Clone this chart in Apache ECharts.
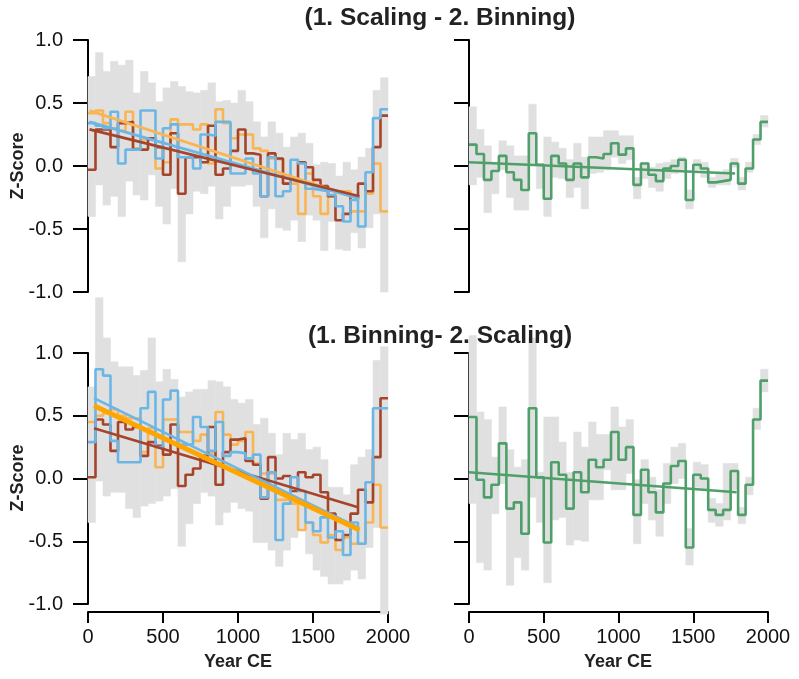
<!DOCTYPE html>
<html>
<head>
<meta charset="utf-8">
<script src="https://cdn.jsdelivr.net/npm/echarts@6/dist/echarts.min.js"></script>
<style>
html,body{margin:0;padding:0;background:#fff;}
#chart{width:799px;height:679px;}
</style>
</head>
<body>
<div id="chart"></div>
<script>
// ---- data ----
const binEdges = [0,50,100,150,200,250,300,350,400,450,500,550,600,650,700,750,800,850,900,950,1000,1050,1100,1150,1200,1250,1300,1350,1400,1450,1500,1550,1600,1650,1700,1750,1800,1850,1900,1950,2000];
const yTicks = [-1.0,-0.5,0.0,0.5,1.0];
const xTicks = [0,500,1000,1500,2000];

// Top-left: (1. Scaling - 2. Binning)
const tlOrange = [0.42,0.44,0.34,0.30,0.28,0.43,0.14,0.21,0.21,-0.02,0.03,0.37,0.33,0.33,0.29,0.33,0.02,0.45,0.34,0.22,0.25,0.25,0.14,0.12,0.06,0.05,-0.14,-0.14,-0.38,-0.06,-0.24,-0.38,-0.24,-0.20,-0.20,-0.36,-0.36,-0.22,0.02,-0.36];
const tlBlue = [0.34,0.32,0.30,0.43,0.02,0.13,0.13,0.44,0.44,0.06,0.30,0.33,0.07,0.07,-0.02,0.25,0.24,0.35,0.35,-0.06,-0.06,0.06,-0.06,-0.24,0.07,-0.24,-0.20,0.05,0.02,-0.18,-0.19,-0.20,-0.23,-0.32,-0.44,-0.27,-0.48,-0.05,0.38,0.45];
const tlBrown = [-0.03,0.29,0.29,0.15,0.34,0.35,0.13,0.13,0.22,0.15,-0.07,0.26,-0.22,0.07,0.07,0.03,0.32,-0.07,-0.02,0.12,0.29,0.10,0.09,-0.24,0.10,0.06,-0.14,-0.10,0.03,-0.01,-0.11,-0.16,-0.24,-0.43,-0.38,-0.24,-0.14,-0.20,0.15,0.40];
const tlUpper = [0.71,0.90,0.75,0.83,0.80,0.84,0.58,0.75,0.66,0.51,0.62,0.67,0.63,0.59,0.58,0.60,0.66,0.51,0.52,0.50,0.60,0.51,0.35,0.23,0.35,0.26,0.15,0.23,0.26,0.18,0.01,0.03,0.02,-0.08,0.03,-0.03,0.07,0.14,0.60,0.70];
const tlLower = [-0.40,-0.15,-0.31,-0.24,-0.40,-0.12,-0.23,-0.27,-0.07,-0.32,-0.46,-0.18,-0.76,-0.38,-0.20,-0.22,-0.16,-0.42,-0.32,-0.16,-0.16,-0.15,-0.32,-0.57,-0.34,-0.49,-0.51,-0.43,-0.60,-0.39,-0.43,-0.67,-0.44,-0.66,-0.67,-0.53,-0.65,-0.49,-0.38,-1.0];
const tlTrendOrange = [[10,0.44],[1810,-0.26]];
const tlTrendBlue = [[10,0.35],[1810,-0.26]];
const tlTrendBrown = [[10,0.29],[1810,-0.24]];

// Top-right
const trGreen = [0.17,0.095,-0.11,-0.04,0.08,-0.05,-0.11,-0.19,0.26,0.01,-0.26,0.08,0.02,-0.11,0.02,-0.09,0.07,0.06,0.095,0.18,0.09,0.14,-0.15,0.02,-0.07,-0.12,-0.02,0.0,0.05,-0.27,0.01,-0.02,-0.13,-0.12,-0.11,0.02,-0.14,-0.02,0.21,0.35];
const trUpper = [0.47,0.29,0.16,0.03,0.20,0.16,0.08,0.08,0.49,0.02,0.23,0.19,0.14,0.05,0.18,0.07,0.23,0.23,0.28,0.28,0.24,0.24,-0.09,0.03,-0.01,0.02,0.03,0.05,0.07,-0.19,0.05,0.03,-0.09,-0.06,-0.03,0.06,-0.09,0.03,0.25,0.40];
const trLower = [-0.15,-0.09,-0.37,-0.22,-0.03,-0.25,-0.35,-0.35,0.02,-0.18,-0.40,-0.09,-0.10,-0.25,-0.17,-0.34,-0.06,-0.05,-0.03,0.07,0.02,0.05,-0.26,-0.10,-0.17,-0.20,-0.10,-0.06,-0.03,-0.34,-0.03,-0.09,-0.17,-0.15,-0.15,-0.01,-0.19,-0.05,0.17,0.31];
const trTrendGreen = [[0,0.03],[1780,-0.06]];

// Bottom-left: (1. Binning- 2. Scaling)
const blOrange = [0.45,0.50,0.52,0.55,0.50,0.48,0.48,0.21,0.40,0.09,0.47,0.47,0.37,0.37,0.30,0.35,0.20,0.53,0.35,0.27,0.30,0.37,0.12,0.04,0.04,-0.17,-0.17,-0.20,-0.41,-0.35,-0.45,-0.51,-0.45,-0.57,-0.47,-0.52,-0.52,-0.35,-0.05,-0.39];
const blBlue = [0.29,0.87,0.82,0.30,0.13,0.13,0.13,0.56,0.69,0.25,0.63,0.70,0.27,0.27,0.49,0.41,0.22,0.45,0.18,0.21,0.20,0.16,0.19,-0.15,0.05,-0.49,-0.20,0.01,-0.10,-0.35,-0.42,-0.31,-0.47,-0.42,-0.61,-0.35,-0.52,-0.03,0.56,0.56];
const blBrown = [0.01,0.47,0.43,0.22,0.45,0.39,0.41,0.18,0.29,0.26,0.19,0.43,-0.06,0.03,0.08,0.18,0.41,-0.05,0.21,0.31,0.32,0.14,0.11,-0.16,0.17,0.00,0.02,-0.10,0.05,0.01,0.03,-0.11,-0.28,-0.49,-0.45,-0.28,-0.09,-0.19,0.17,0.64];
const blUpper = [0.73,1.44,1.12,0.93,0.89,0.89,0.82,0.86,1.12,0.77,0.87,0.79,0.65,0.69,0.71,0.71,0.78,0.77,0.73,0.63,0.60,0.63,0.43,0.48,0.36,0.19,0.36,0.31,0.36,0.23,0.25,0.15,-0.07,-0.07,-0.13,0.11,0.17,0.23,0.94,1.05];
const blLower = [-0.35,-0.02,-0.14,-0.11,-0.11,-0.24,-0.31,-0.22,-0.20,-0.18,-0.14,-0.08,-0.54,-0.36,-0.20,-0.11,-0.14,-0.37,-0.27,-0.19,-0.24,-0.26,-0.51,-0.51,-0.57,-0.70,-0.57,-0.47,-0.41,-0.60,-0.73,-0.78,-0.84,-0.84,-0.81,-0.73,-0.80,-0.55,-0.39,-1.08];
const blTrendOrange = [[40,0.58],[1810,-0.41]];
const blTrendBlue = [[40,0.64],[1800,-0.39]];
const blTrendBrown = [[40,0.40],[1800,-0.23]];

// Bottom-right
const brGreen = [0.49,-0.01,-0.15,-0.05,0.28,-0.24,-0.19,-0.44,0.56,0.01,-0.51,0.13,0.03,-0.24,0.05,-0.11,0.15,0.09,0.15,0.37,0.15,0.25,-0.29,0.07,-0.11,-0.27,-0.04,0.10,0.14,-0.55,0.03,0.00,-0.25,-0.29,-0.25,0.06,-0.29,-0.05,0.47,0.78];
const brUpper = [1.14,0.53,0.47,0.17,0.57,0.23,0.09,0.15,1.12,0.05,0.49,0.49,0.29,0.05,0.37,0.25,0.45,0.35,0.35,0.57,0.41,0.47,-0.01,0.15,0.01,-0.09,0.12,0.25,0.28,-0.40,0.13,0.11,-0.16,-0.20,0.12,0.12,-0.23,0.01,0.56,0.87];
const brLower = [-0.20,-0.67,-0.73,-0.28,-0.04,-0.85,-0.63,-0.73,-0.15,-0.35,-0.83,-0.33,-0.31,-0.53,-0.49,-0.50,-0.17,-0.17,0.07,-0.09,-0.09,0.04,-0.52,-0.20,-0.33,-0.46,-0.20,-0.04,0.00,-0.69,-0.07,-0.09,-0.35,-0.38,-0.33,-0.09,-0.36,-0.13,0.39,0.69];
const brTrendGreen = [[0,0.05],[1790,-0.11]];

const titles = ['(1. Scaling - 2. Binning)', '(1. Binning- 2. Scaling)'];
const yName = 'Z-Score';
const xName = 'Year CE';

// ---- styling ----
const FONT = '"Liberation Sans", Arial, Helvetica, sans-serif';
const C_ORANGE = '#F9B453';
const C_BLUE = '#6CB6E6';
const C_BROWN = '#A5442B';
const C_GREEN = '#4E9F69';
const C_GREY = '#E0E0E0';
const C_TREND_ORANGE = '#FFA500';

function stepData(vals){
  const d = vals.map((v,i)=>[binEdges[i], v]);
  d.push([binEdges[vals.length], vals[vals.length-1]]);
  return d;
}
function bandData(lo, hi){
  return lo.map((l,i)=>[binEdges[i], binEdges[i+1], l, hi[i]]);
}
function band(idx, lo, hi){
  return {
    type:'custom', xAxisIndex:idx, yAxisIndex:idx, clip:false, silent:true, z:1,
    data: bandData(lo, hi),
    renderItem: function(params, api){
      const p1 = api.coord([api.value(0), api.value(3)]);
      const p2 = api.coord([api.value(1), api.value(2)]);
      return {type:'rect', shape:{x:p1[0], y:p1[1], width:p2[0]-p1[0], height:p2[1]-p1[1]},
        style:{fill:C_GREY, stroke:C_GREY, lineWidth:0.6}};
    }
  };
}
function step(idx, vals, color){
  return {type:'line', xAxisIndex:idx, yAxisIndex:idx, step:'end', data:stepData(vals),
    showSymbol:false, symbol:'none', silent:true, z:3, animation:false,
    lineStyle:{color:color, width:2.6}};
}
function trend(idx, pts, color, w){
  return {type:'line', xAxisIndex:idx, yAxisIndex:idx, data:pts, showSymbol:false, symbol:'none',
    silent:true, z:4, animation:false, lineStyle:{color:color, width:w}};
}

const grids = [
  {left:88, top:40, width:300, height:252},
  {left:469, top:40, width:299, height:252},
  {left:88, top:353, width:300, height:251},
  {left:469, top:353, width:299, height:251}
];

const xAxes = grids.map((g,i)=>{
  const bottom = i >= 2;
  return {
    gridIndex:i, type:'value', min:xTicks[0], max:xTicks[xTicks.length-1], interval:500,
    show: bottom, offset: 8,
    axisLine:{show:true, onZero:false, lineStyle:{color:'#000', width:2}},
    axisTick:{show:true, length:11, lineStyle:{color:'#000', width:2}},
    axisLabel:{show:true, fontSize:20, color:'#111', margin:15, fontFamily:FONT,
      formatter: v => String(v)},
    splitLine:{show:false}
  };
});
const yAxes = grids.map((g,i)=>{
  const left = (i % 2) === 0;
  return {
    gridIndex:i, type:'value', min:yTicks[0], max:yTicks[yTicks.length-1], interval:0.5,
    axisLine:{show:true, onZero:false, lineStyle:{color:'#000', width:2}},
    axisTick:{show:true, length:15, lineStyle:{color:'#000', width:2}},
    axisLabel:{show:left, fontSize:20, color:'#111', margin:25, fontFamily:FONT,
      formatter: v => v.toFixed(1)},
    splitLine:{show:false}
  };
});

const series = [
  band(0, tlLower, tlUpper),
  step(0, tlOrange, C_ORANGE),
  step(0, tlBrown, C_BROWN),
  step(0, tlBlue, C_BLUE),
  trend(0, tlTrendOrange, C_ORANGE, 2.8),
  trend(0, tlTrendBlue, C_BLUE, 2.8),
  trend(0, tlTrendBrown, C_BROWN, 2.8),

  band(1, trLower, trUpper),
  step(1, trGreen, C_GREEN),
  trend(1, trTrendGreen, C_GREEN, 2.6),

  band(2, blLower, blUpper),
  step(2, blOrange, C_ORANGE),
  step(2, blBrown, C_BROWN),
  step(2, blBlue, C_BLUE),
  trend(2, blTrendBrown, C_BROWN, 2.6),
  trend(2, blTrendBlue, C_BLUE, 2.6),
  trend(2, blTrendOrange, C_TREND_ORANGE, 5),

  band(3, brLower, brUpper),
  step(3, brGreen, C_GREEN),
  trend(3, brTrendGreen, C_GREEN, 2.6)
];

const textStyleBold = (size)=>({fontFamily:FONT, fontWeight:'bold', fontSize:size, fill:'#222'});
const graphic = [
  {type:'text', x:440, y:18, z:10, style:Object.assign({text:titles[0], align:'center', verticalAlign:'middle'}, textStyleBold(24.5))},
  {type:'text', x:440, y:336, z:10, style:Object.assign({text:titles[1], align:'center', verticalAlign:'middle'}, textStyleBold(24.5))},
  {type:'text', x:18, y:166, rotation:Math.PI/2, z:10, style:Object.assign({text:yName, align:'center', verticalAlign:'middle'}, textStyleBold(18))},
  {type:'text', x:18, y:478, rotation:Math.PI/2, z:10, style:Object.assign({text:yName, align:'center', verticalAlign:'middle'}, textStyleBold(18))},
  {type:'text', x:238, y:662, z:10, style:Object.assign({text:xName, align:'center', verticalAlign:'middle'}, textStyleBold(18))},
  {type:'text', x:618, y:662, z:10, style:Object.assign({text:xName, align:'center', verticalAlign:'middle'}, textStyleBold(18))}
];

const chart = echarts.init(document.getElementById('chart'), null, {renderer:'canvas'});
chart.setOption({
  animation:false,
  backgroundColor:'#fff',
  grid: grids,
  xAxis: xAxes,
  yAxis: yAxes,
  series: series,
  graphic: graphic
});
</script>
</body>
</html>
